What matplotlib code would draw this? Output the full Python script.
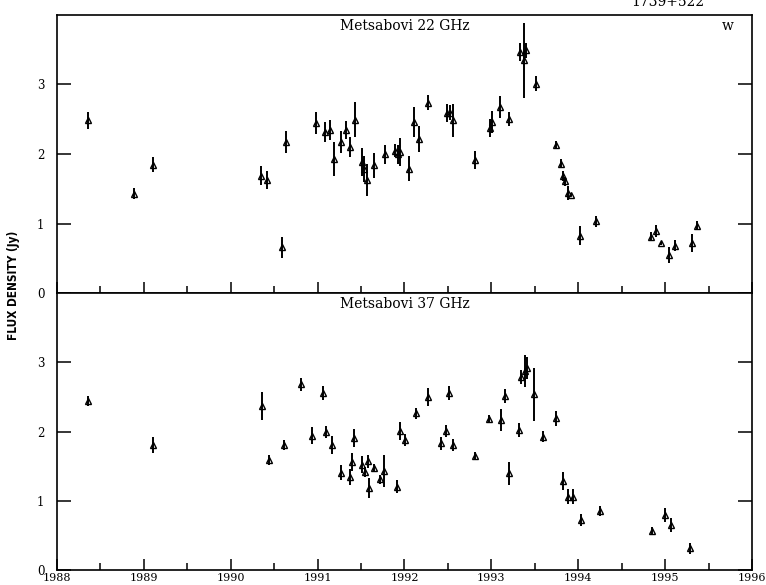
import numpy as np
import matplotlib
matplotlib.use("Agg")
import matplotlib.pyplot as plt

# Metsahovi 22 GHz: epoch, flux (Jy), error
t22 = [1988.357, 1988.883, 1989.100, 1990.353, 1990.418, 1990.590, 1990.633,
       1990.978, 1991.090, 1991.140, 1991.185, 1991.274, 1991.323, 1991.370,
       1991.427, 1991.510, 1991.534, 1991.569, 1991.650, 1991.778, 1991.892,
       1991.926, 1991.953, 1992.052, 1992.106, 1992.167, 1992.275, 1992.489,
       1992.520, 1992.559, 1992.810, 1992.980, 1993.012, 1993.104, 1993.200,
       1993.326, 1993.372, 1993.403, 1993.518, 1993.749, 1993.798, 1993.825,
       1993.853, 1993.883, 1993.920, 1994.017, 1994.209, 1994.834, 1994.892,
       1994.957, 1995.045, 1995.110, 1995.310, 1995.372]
f22 = [2.486, 1.430, 1.847, 1.688, 1.630, 0.659, 2.169,
       2.449, 2.319, 2.350, 1.930, 2.169, 2.350, 2.100,
       2.496, 1.880, 1.785, 1.630, 1.837, 1.995, 2.050,
       1.995, 2.030, 1.785, 2.463, 2.218, 2.737, 2.593,
       2.593, 2.482, 1.909, 2.376, 2.463, 2.674, 2.506,
       3.468, 3.348, 3.492, 3.010, 2.126, 1.857, 1.688,
       1.606, 1.438, 1.414, 0.827, 1.029, 0.813, 0.895,
       0.717, 0.548, 0.683, 0.717, 0.971]
e22 = [0.12, 0.075, 0.11, 0.14, 0.13, 0.15, 0.155,
       0.16, 0.145, 0.145, 0.24, 0.155, 0.13, 0.15,
       0.25, 0.20, 0.19, 0.23, 0.18, 0.14, 0.10,
       0.14, 0.20, 0.18, 0.22, 0.19, 0.11, 0.13,
       0.11, 0.24, 0.13, 0.13, 0.16, 0.16, 0.10,
       0.13, 0.54, 0.11, 0.11, 0.06, 0.065, 0.07,
       0.07, 0.10, 0.02, 0.14, 0.08, 0.065, 0.09,
       0.02, 0.11, 0.08, 0.13, 0.065]

# Metsahovi 37 GHz
t37 = [1988.357, 1989.105, 1990.360, 1990.437, 1990.614, 1990.805, 1990.940,
       1991.058, 1991.093, 1991.162, 1991.266, 1991.370, 1991.400, 1991.423,
       1991.515, 1991.542, 1991.577, 1991.588, 1991.646, 1991.715, 1991.765,
       1991.910, 1991.953, 1992.003, 1992.137, 1992.275, 1992.425, 1992.483,
       1992.512, 1992.559, 1992.810, 1992.973, 1993.108, 1993.154, 1993.200,
       1993.320, 1993.346, 1993.384, 1993.410, 1993.488, 1993.595, 1993.749,
       1993.826, 1993.877, 1993.940, 1994.028, 1994.255, 1994.850, 1995.003,
       1995.072, 1995.283]
f37 = [2.443, 1.804, 2.367, 1.587, 1.804, 2.680, 1.938,
       2.559, 1.996, 1.804, 1.404, 1.340, 1.563, 1.910,
       1.520, 1.418, 1.568, 1.186, 1.476, 1.313, 1.431,
       1.205, 2.008, 1.880, 2.265, 2.501, 1.828, 2.008,
       2.555, 1.804, 1.645, 2.185, 2.165, 2.511, 1.395,
       2.020, 2.790, 2.871, 2.919, 2.535, 1.924, 2.189,
       1.284, 1.058, 1.058, 0.722, 0.851, 0.567, 0.794,
       0.649, 0.313]
e37 = [0.077, 0.12, 0.20, 0.077, 0.07, 0.10, 0.125,
       0.10, 0.085, 0.125, 0.11, 0.115, 0.13, 0.13,
       0.12, 0.07, 0.10, 0.14, 0.055, 0.065, 0.23,
       0.095, 0.13, 0.09, 0.08, 0.13, 0.09, 0.085,
       0.10, 0.09, 0.06, 0.06, 0.16, 0.10, 0.16,
       0.10, 0.10, 0.23, 0.16, 0.38, 0.08, 0.11,
       0.13, 0.11, 0.11, 0.09, 0.07, 0.055, 0.10,
       0.10, 0.075]

serif = "DejaVu Serif"

fig = plt.figure(figsize=(7.66, 5.85), dpi=100)
ax1 = fig.add_axes([0.0744, 0.4991, 0.9073, 0.4753])
ax2 = fig.add_axes([0.0744, 0.0256, 0.9073, 0.4735])

for ax, t, f, e, name in [(ax1, t22, f22, e22, "Metsabovi 22 GHz"),
                          (ax2, t37, f37, e37, "Metsabovi 37 GHz")]:
    ax.errorbar(t, f, yerr=e, fmt="^", color="black", mfc="none", mec="black",
                ms=5, mew=1.0, elinewidth=1.4, capsize=0)
    ax.set_xlim(1988, 1996)
    ax.set_ylim(0, 4)
    ax.set_xticks(np.arange(1988, 1997, 1))
    ax.set_xticks(np.arange(1988, 1996.1, 0.5), minor=True)
    ax.set_yticks([0, 1, 2, 3])
    ax.tick_params(axis="x", which="major", direction="in", length=8, width=1.1,
                   top=False, bottom=True, pad=2, labelsize=8)
    ax.tick_params(axis="x", which="minor", direction="in", length=5, width=1.1,
                   top=False, bottom=True)
    ax.tick_params(axis="y", which="major", direction="in", length=10, width=1.1,
                   left=True, right=True, pad=9, labelsize=8.5)
    for lab in ax.get_xticklabels() + ax.get_yticklabels():
        lab.set_fontfamily(serif)
    for sp in ax.spines.values():
        sp.set_linewidth(1.2)
    ax.text(0.5, 0.985, name, transform=ax.transAxes, ha="center", va="top",
            fontsize=10, family=serif)

ax1.tick_params(axis="x", labelbottom=False)
ax1.text(0.965, 0.985, "w", transform=ax1.transAxes, ha="center", va="top",
         fontsize=10, family=serif)

fig.text(0.872, 0.989, "1739+522", ha="center", va="baseline", fontsize=10,
         family=serif)
fig.text(0.018, 0.513, "FLUX DENSITY (Jy)", rotation=90, ha="center",
         va="center", fontsize=8.5, fontweight="bold", family="DejaVu Sans",
         fontstretch="condensed")

fig.savefig("out.png", dpi=100)
